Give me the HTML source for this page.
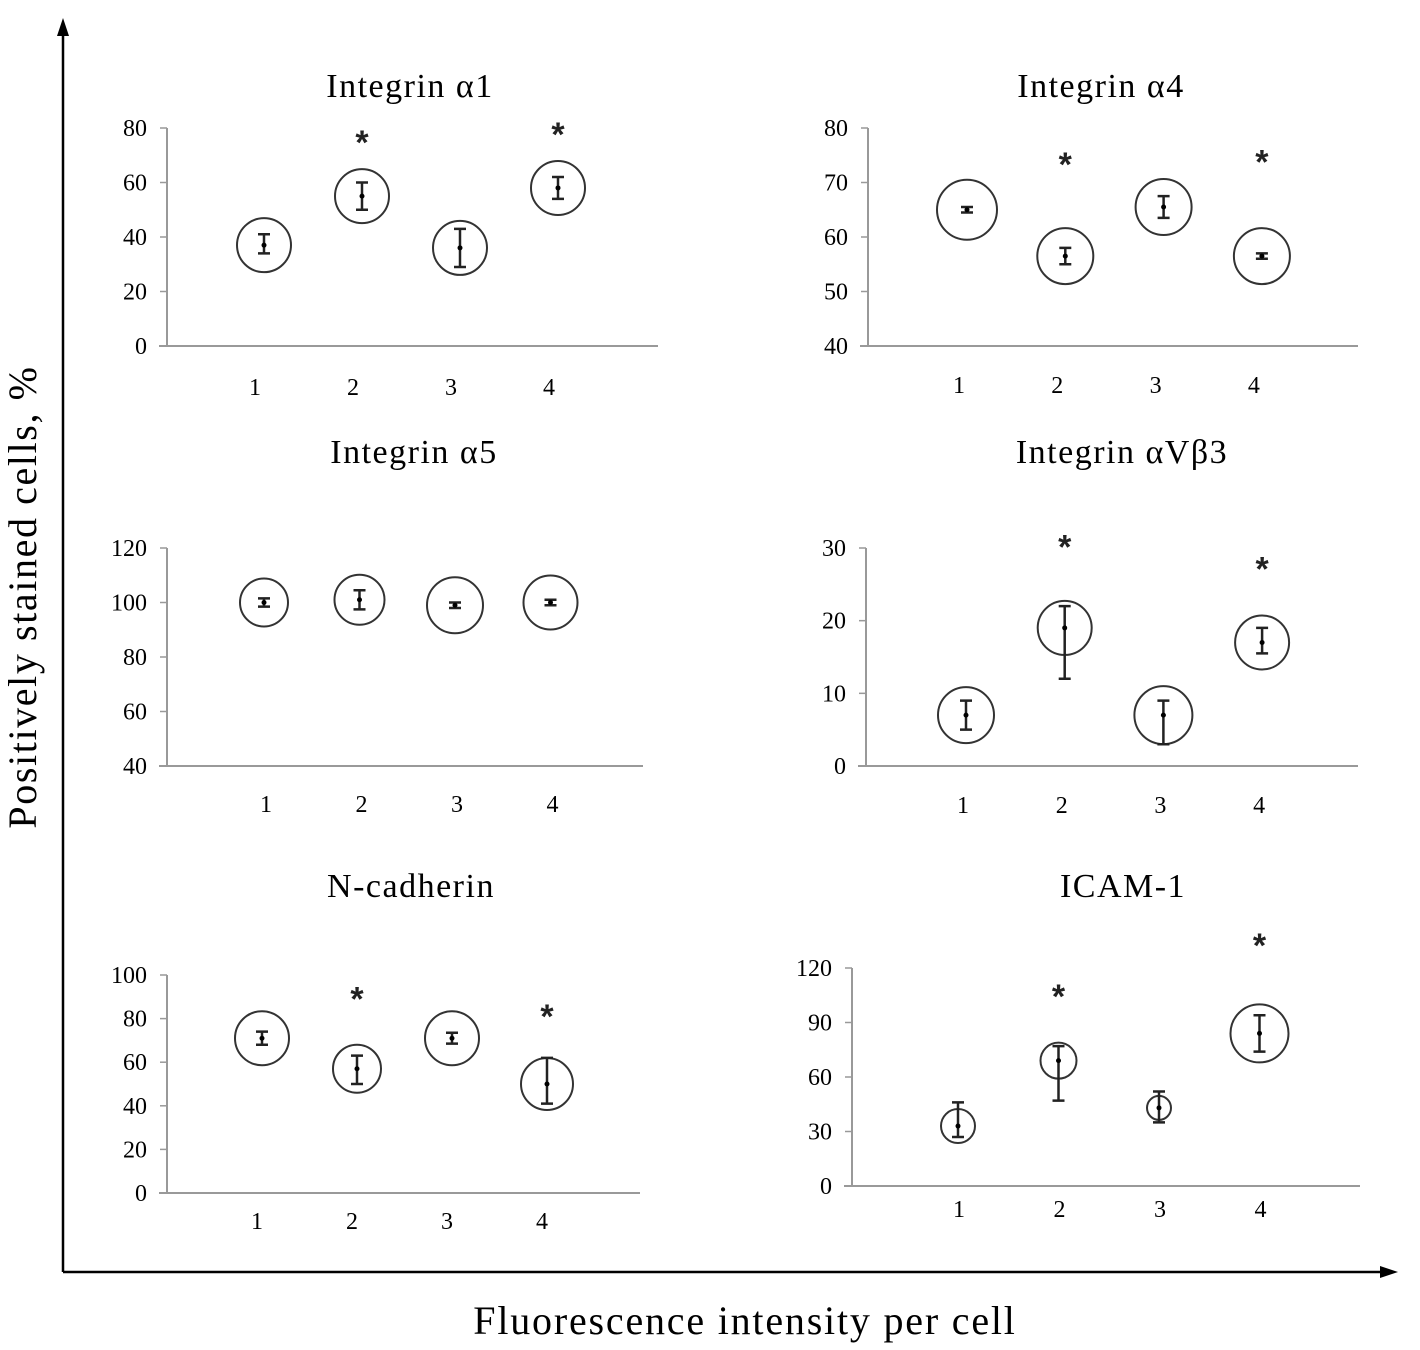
<!DOCTYPE html>
<html><head><meta charset="utf-8">
<style>
html,body{margin:0;padding:0;background:#fff;}
svg{display:block;font-family:"Liberation Serif",serif;}
</style></head>
<body>
<svg id="chart" width="1420" height="1350" viewBox="0 0 1420 1350">
<line x1="63" y1="1272" x2="63" y2="28" stroke="#000" stroke-width="2.5"/>
<path d="M57,36 L63,18 L69,36 z" fill="#000"/>
<line x1="63" y1="1272" x2="1382" y2="1272" stroke="#000" stroke-width="2.5"/>
<path d="M1380,1266 L1398,1272 L1380,1278 z" fill="#000"/>
<text x="36" y="597" font-size="40" letter-spacing="1.6" text-anchor="middle" transform="rotate(-90 36 597)">Positively stained cells, %</text>
<text x="745" y="1334" font-size="40" letter-spacing="1.8" text-anchor="middle">Fluorescence intensity per cell</text>
<g id="panels"></g>
</svg>
<script>
// Panel data
const categories = ["1","2","3","4"];
const titles = ["Integrin α1","Integrin α4","Integrin α5","Integrin αVβ3","N-cadherin","ICAM-1"];
const yMins = [0,40,40,0,0,0];
const yMaxs = [80,80,120,30,100,120];
const yTickSteps = [20,10,20,10,20,30];
const means = [[37,55,36,58],[65,56.5,65.5,56.5],[100,101,99,100],[7,19,7,17],[71,57,71,50],[33,69,43,84]];
const lows = [[34,50,29,54],[64.5,55,63.5,56],[98.5,97.5,98,99],[5,12,3,15.5],[68,50,68.5,41],[27,47,35,74]];
const highs = [[41,60,43,62],[65.5,58,67.5,57],[101.5,104.5,100,101],[9,22,9,19],[74,63,73.5,62],[46,77,52,94]];
const significant = [[0,1,0,1],[0,1,0,1],[0,0,0,0],[0,1,0,1],[0,1,0,1],[0,1,0,1]];
const circleRadii = [[27,27,27,27],[30,28,28,28],[24,25,28,27],[28,27,29,27],[27,24,27,26],[17,18,12,29]];
const starValues = [[0,77,0,80],[0,74.5,0,75],[0,0,0,0],[0,31,0,28],[0,92,0,84],[0,0,0,0]];
const starIcam = [0,108,0,136];

// Layout
const layout = [
 {ax:167,top:128,bot:346,xEnd:658,cx0:264,step:98,titleX:410,titleY:97,labY:395,labOff:-9},
 {ax:868,top:128,bot:346,xEnd:1358,cx0:967,step:98.3,titleX:1101,titleY:97,labY:393,labOff:-8},
 {ax:167,top:548,bot:766,xEnd:643,cx0:264,step:95.5,titleX:414,titleY:463,labY:812,labOff:2},
 {ax:866,top:548,bot:766,xEnd:1358,cx0:966,step:98.7,titleX:1122,titleY:463,labY:813,labOff:-3},
 {ax:167,top:975,bot:1193,xEnd:640,cx0:262,step:95,titleX:411,titleY:897,labY:1229,labOff:-5},
 {ax:852,top:968,bot:1186,xEnd:1360,cx0:958,step:100.5,titleX:1123,titleY:897,labY:1217,labOff:1}
];
const NS="http://www.w3.org/2000/svg";
const root=document.getElementById('panels');
function mk(tag,attrs,parent){const e=document.createElementNS(NS,tag);for(const k in attrs)e.setAttribute(k,attrs[k]);parent.appendChild(e);return e;}

titles.forEach((t,p)=>{
  const L=layout[p];
  const g=mk('g',{},root);
  
  
  const y=v=>L.bot-(v-yMins[p])/(yMaxs[p]-yMins[p])*(L.bot-L.top);
  const x=i=>L.cx0+i*L.step;
  const tt=mk('text',{x:L.titleX,y:L.titleY,'font-size':34,'letter-spacing':1.5,'text-anchor':'middle'},g);
  tt.textContent=t;
  
  
  const ya=mk('line',{x1:L.ax,y1:L.top,x2:L.ax,y2:L.bot,stroke:'#999','stroke-width':2},g);
  
  
  const xa=mk('line',{x1:L.ax-8,y1:L.bot,x2:L.xEnd,y2:L.bot,stroke:'#999','stroke-width':2},g);
  
  
  for(let v=yMins[p];v<=yMaxs[p]+1e-9;v+=yTickSteps[p]){
    mk('line',{x1:L.ax-7,y1:y(v),x2:L.ax,y2:y(v),stroke:'#999','stroke-width':1.5},g);
    const tl=mk('text',{x:L.ax-20,y:y(v)+8,'font-size':24,'text-anchor':'end'},g);
    tl.textContent=v;
    
    
  }
  categories.forEach((c,i)=>{
    const cx=x(i);
    const lab=mk('text',{x:cx+L.labOff,y:L.labY,'font-size':24,'text-anchor':'middle'},g);
    lab.textContent=c;
    
    
    const circ=mk('circle',{cx:cx,cy:y(means[p][i]),r:circleRadii[p][i],fill:'none',stroke:'#333','stroke-width':2},g);
    
    
    const eb=mk('path',{d:`M${cx},${y(lows[p][i])}V${y(highs[p][i])}M${cx-6},${y(lows[p][i])}H${cx+6}M${cx-6},${y(highs[p][i])}H${cx+6}`,stroke:'#222','stroke-width':2.5,fill:'none'},g);
    
    
    const dot=mk('circle',{cx:cx,cy:y(means[p][i]),r:2.5,fill:'#000'},g);
    
    
    if(significant[p][i]){
      const sv = p===5 ? starIcam[i] : starValues[p][i];
      const st=mk('text',{x:cx,y:y(sv)+18,'font-size':34,'text-anchor':'middle','font-family':'Liberation Sans, sans-serif','font-weight':'bold',fill:'#222'},g);
      st.textContent='*';
      
      
    }
  });
});
</script>
</body></html>
